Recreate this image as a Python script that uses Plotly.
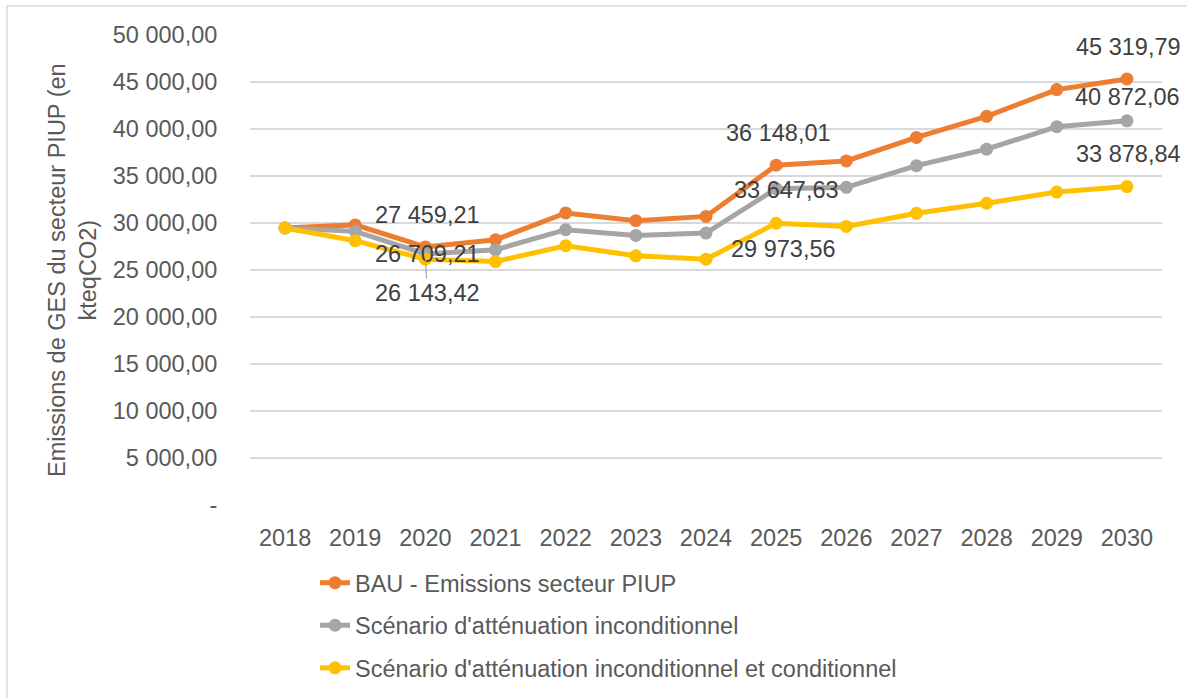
import plotly.graph_objects as go

years = list(range(2018, 2031))
bau = [29470, 29800, 27459.21, 28220, 31070, 30250, 30700, 36148.01, 36600, 39100, 41350, 44190, 45319.79]
uncond = [29470, 29110, 26709.21, 27150, 29290, 28680, 28930, 33647.63, 33800, 36100, 37850, 40250, 40872.06]
cond = [29470, 28120, 26143.42, 25900, 27580, 26510, 26150, 29973.56, 29640, 31030, 32100, 33290, 33878.84]
names = ["BAU - Emissions secteur PIUP",
         "Scénario d'atténuation inconditionnel",
         "Scénario d'atténuation inconditionnel et conditionnel"]
label_idx = [2, 7, 12]
y_ticks = [0, 5000, 10000, 15000, 20000, 25000, 30000, 35000, 40000, 45000, 50000]
y_title = "Emissions de GES du secteur PIUP (en<br>kteqCO2)"

colors = ["#ED7D31", "#A5A5A5", "#FFC000"]
FONT = "Liberation Sans, Arial, sans-serif"
FS = 23.5

def fr(v):
    return f"{v:,.2f}".replace(",", " ").replace(".", ",")

def tick_text(v):
    return "-" if v == 0 else fr(v)

# label offsets (xshift, yshift) per series for points 2020, 2025, 2030
offsets = [
    [(2, 32), (2, 32), (2, 32)],
    [(2, 0), (10, -1), (1, 24)],
    [(2, -34), (7, -26), (2, 33)],
]

fig = go.Figure()
series = [bau, uncond, cond]
for i, (s, n, c) in enumerate(zip(series, names, colors)):
    fig.add_trace(go.Scatter(
        x=years, y=s, name=n, mode="lines+markers",
        line=dict(color=c, width=5),
        marker=dict(color=c, size=13),
        legendgroup=f"g{i}",
    ))

annotations = []
for i, s in enumerate(series):
    for k, idx in enumerate(label_idx):
        xs, ys = offsets[i][k]
        if i == 2 and k == 0:
            annotations.append(dict(
                x=years[idx], y=s[idx], xref="x", yref="y",
                text=fr(s[idx]), showarrow=True, ax=xs, ay=-ys,
                arrowhead=0, arrowwidth=1.2, arrowcolor="#A5A5A5",
                standoff=0, font=dict(family=FONT, size=FS, color="#404040"),
            ))
        else:
            annotations.append(dict(
                x=years[idx], y=s[idx], xref="x", yref="y",
                text=fr(s[idx]), showarrow=False, xshift=xs, yshift=ys,
                font=dict(family=FONT, size=FS, color="#404040"),
            ))

annotations.append(dict(
    x=0, y=0.5, xref="paper", yref="paper", xanchor="center", yanchor="middle",
    xshift=-178, text=y_title, textangle=-90, showarrow=False,
    font=dict(family=FONT, size=FS, color="#595959"),
))

fig.update_layout(
    width=1187, height=698,
    margin=dict(l=250, r=25, t=35, b=193, autoexpand=False),
    paper_bgcolor="white", plot_bgcolor="white",
    font=dict(family=FONT, size=FS, color="#595959"),
    annotations=annotations,
    showlegend=True,
    legend=dict(
        x=0.0713, y=-0.119, xanchor="left", yanchor="top",
        orientation="v", tracegroupgap=9,
        font=dict(family=FONT, size=FS, color="#595959"),
        bgcolor="rgba(0,0,0,0)",
    ),
    shapes=[dict(type="rect", xref="paper", yref="paper",
                 x0=-0.2665, x1=1.2, y0=-0.6, y1=1.0625,
                 line=dict(color="#D9D9D9", width=1.5), layer="below")],
)
fig.update_xaxes(
    range=[2017.5, 2030.5], tickmode="array", tickvals=years,
    ticktext=[str(y) for y in years], showgrid=False, zeroline=False,
    showline=False, ticks="outside", ticklen=12, tickcolor="rgba(0,0,0,0)",
    tickfont=dict(family=FONT, size=FS, color="#595959"),
)
fig.update_yaxes(
    range=[0, 50000], tickmode="array", tickvals=y_ticks,
    ticktext=[tick_text(v) for v in y_ticks],
    showgrid=True, gridcolor="#D9D9D9", gridwidth=1.5, zeroline=False,
    showline=False, ticks="outside", ticklen=27, tickcolor="rgba(0,0,0,0)",
    tickfont=dict(family=FONT, size=FS, color="#595959"),
)
fig.write_html("out.html", config={"displayModeBar": False},
               post_script="document.body.style.margin='0';document.body.style.overflow='hidden';")
